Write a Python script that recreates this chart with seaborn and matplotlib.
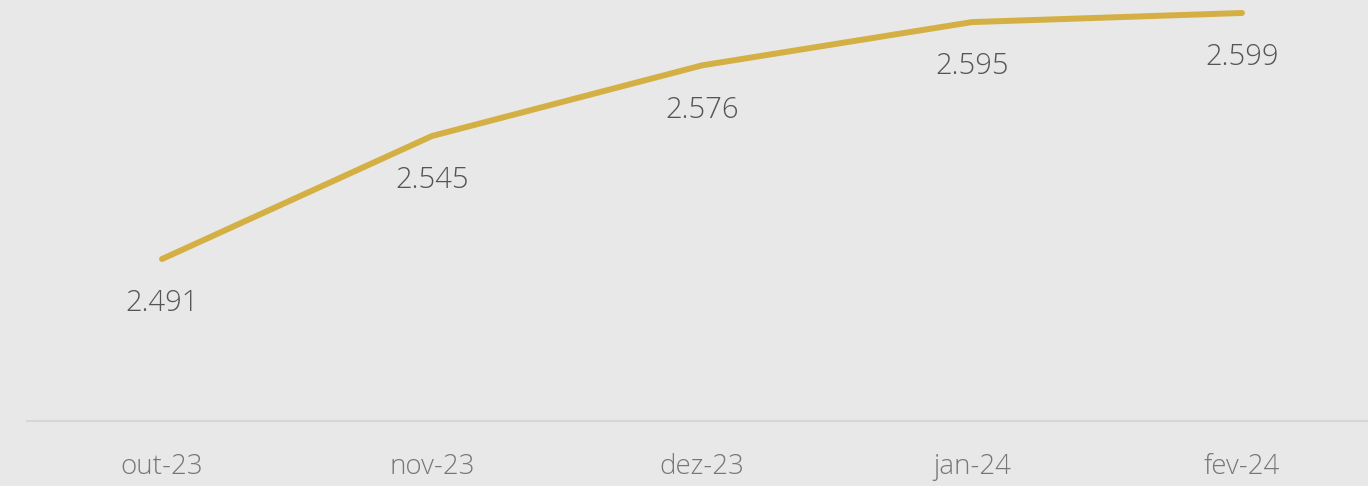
import matplotlib
matplotlib.use("Agg")
import matplotlib.pyplot as plt
import seaborn as sns
import pandas as pd

months = ["out-23", "nov-23", "dez-23", "jan-24", "fev-24"]
values = [2.491, 2.545, 2.576, 2.595, 2.599]
labels = ["2.491", "2.545", "2.576", "2.595", "2.599"]

bg = "#e8e8e8"
sns.set_theme(style="white")
plt.rcParams["font.family"] = ["Open Sans", "DejaVu Sans"]

fig = plt.figure(figsize=(13.68, 4.86), dpi=100, facecolor=bg)
ax = fig.add_axes([27 / 1368, 65 / 486, 1 - 27 / 1368, 1 - 65 / 486])
ax.set_facecolor(bg)

df = pd.DataFrame({"x": range(len(months)), "v": values})
sns.lineplot(data=df, x="x", y="v", ax=ax, color="#d4b044", linewidth=4.3,
             solid_capstyle="round")

for i, (v, t) in enumerate(zip(values, labels)):
    ax.annotate(t, (i, v), xytext=(0, -32), textcoords="offset points",
                ha="center", va="center", fontsize=21, color="#555555",
                fontweight="light")

ax.set_xlim(-0.5, (1368 - 162) / 270)
ax.set_ylim(2.4199, 2.6047)
ax.set_xticks(range(len(months)))
ax.set_xticklabels(months, fontsize=20, color="#777777", fontweight="light")
ax.tick_params(axis="x", length=0, pad=23)
ax.set_yticks([])
ax.set_xlabel("")
ax.set_ylabel("")
for s in ["top", "right", "left"]:
    ax.spines[s].set_visible(False)
ax.spines["bottom"].set_color("#d6d6d6")
ax.spines["bottom"].set_linewidth(1.5)

fig.savefig("out.png", dpi=100, facecolor=bg)
